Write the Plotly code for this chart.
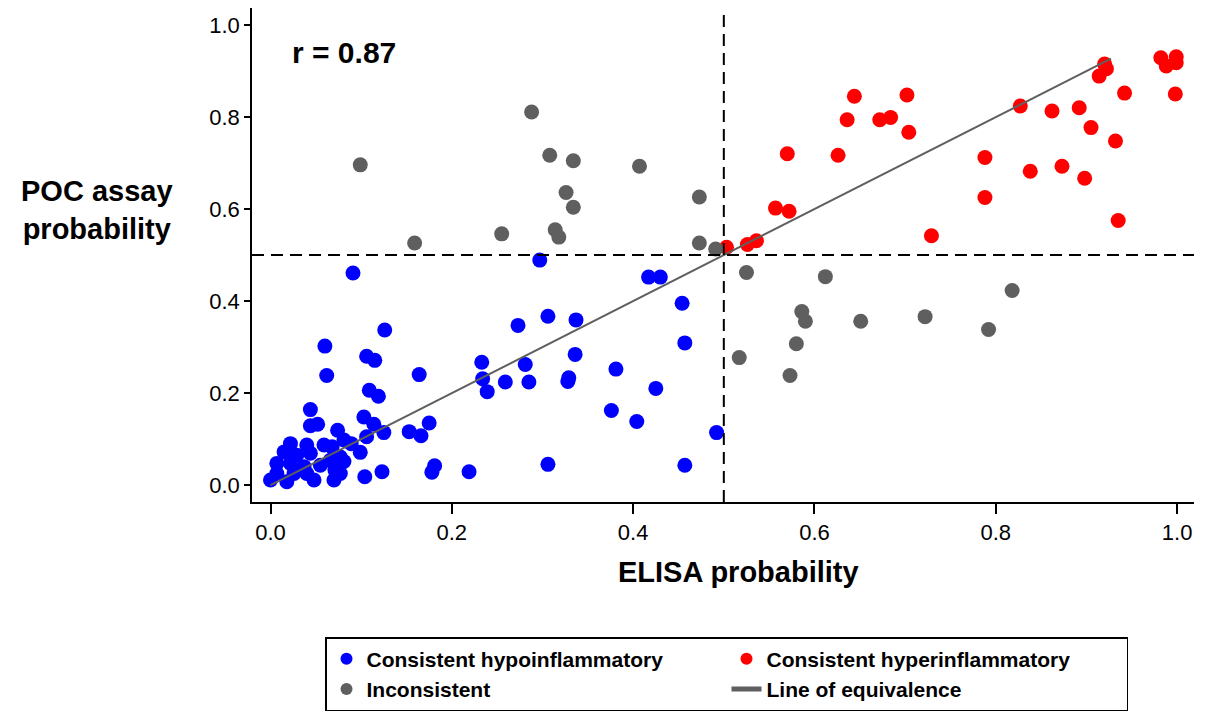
import plotly.graph_objects as go

# ---- data ----
hypo_x = [0.297, 0.417, 0.430, 0.454, 0.457, 0.306, 0.273, 0.337, 0.336, 0.281, 0.233, 0.234,
          0.239, 0.259, 0.285, 0.329, 0.328, 0.381, 0.425, 0.376, 0.404, 0.492, 0.457, 0.306,
          0.219, 0.181, 0.178, 0.164, 0.175, 0.153, 0.166,
          0.091, 0.126, 0.060, 0.106, 0.115, 0.062, 0.109, 0.119,
          0.044, 0.044, 0.052, 0.103, 0.114, 0.074, 0.125, 0.106, 0.081, 0.089, 0.022, 0.040,
          0.059, 0.068, 0.015, 0.029, 0.044, 0.077, 0.099, 0.081, 0.066, 0.007, 0.022, 0.037,
          0.055, 0.071, 0.077, 0.007, 0.000, 0.018, 0.048, 0.070, 0.040, 0.026, 0.104, 0.123]
hypo_y = [0.489, 0.452, 0.452, 0.395, 0.309, 0.367, 0.347, 0.359, 0.284, 0.262, 0.267, 0.231,
          0.203, 0.224, 0.224, 0.233, 0.225, 0.252, 0.210, 0.162, 0.138, 0.114, 0.043, 0.045,
          0.029, 0.042, 0.028, 0.240, 0.135, 0.116, 0.107,
          0.461, 0.337, 0.302, 0.280, 0.271, 0.238, 0.206, 0.193,
          0.164, 0.129, 0.132, 0.148, 0.132, 0.119, 0.114, 0.105, 0.098, 0.090, 0.090, 0.087,
          0.087, 0.083, 0.072, 0.065, 0.069, 0.061, 0.071, 0.051, 0.054, 0.047, 0.047, 0.040,
          0.043, 0.033, 0.025, 0.025, 0.011, 0.007, 0.011, 0.011, 0.025, 0.025, 0.018, 0.029]

hyper_x = [0.503, 0.526, 0.536, 0.557, 0.572, 0.570, 0.626, 0.644, 0.636, 0.672, 0.684, 0.702,
           0.704, 0.729, 0.788, 0.788, 0.827, 0.838, 0.862, 0.873, 0.892, 0.905, 0.898, 0.932,
           0.935, 0.914, 0.920, 0.922, 0.942, 0.982, 0.988, 0.999, 0.999, 0.998]
hyper_y = [0.517, 0.523, 0.531, 0.602, 0.595, 0.720, 0.717, 0.845, 0.794, 0.794, 0.799, 0.848,
           0.767, 0.542, 0.712, 0.625, 0.824, 0.682, 0.813, 0.693, 0.820, 0.777, 0.667, 0.748,
           0.575, 0.889, 0.915, 0.905, 0.852, 0.929, 0.911, 0.931, 0.918, 0.850]

incons_x = [0.099, 0.288, 0.308, 0.334, 0.407, 0.326, 0.334, 0.473, 0.255, 0.314, 0.318, 0.159,
            0.473, 0.491, 0.525, 0.612, 0.818, 0.586, 0.590, 0.651, 0.722, 0.792, 0.580, 0.517,
            0.573]
incons_y = [0.696, 0.811, 0.717, 0.705, 0.693, 0.636, 0.604, 0.626, 0.546, 0.555, 0.539, 0.526,
            0.526, 0.513, 0.462, 0.453, 0.423, 0.377, 0.356, 0.356, 0.366, 0.338, 0.307, 0.277,
            0.238]

equiv_x = [0.0, 0.927]
equiv_y = [0.0, 0.927]

tick_vals = [0.0, 0.2, 0.4, 0.6, 0.8, 1.0]
tick_text = ["0.0", "0.2", "0.4", "0.6", "0.8", "1.0"]
threshold = 0.5
r_text = "r = 0.87"
x_title = "ELISA probability"
y_title = "POC assay<br>probability"

FONT = "Liberation Sans, Arial, sans-serif"
BLUE = "#0000FF"
RED = "#FF0000"
GRAY = "#5F5F5F"

fig = go.Figure()
fig.add_trace(go.Scatter(x=hypo_x, y=hypo_y, mode="markers", name="Consistent hypoinflammatory",
                         marker=dict(color=BLUE, size=15)))
fig.add_trace(go.Scatter(x=hyper_x, y=hyper_y, mode="markers", name="Consistent hyperinflammatory",
                         marker=dict(color=RED, size=15)))
fig.add_trace(go.Scatter(x=incons_x, y=incons_y, mode="markers", name="Inconsistent",
                         marker=dict(color=GRAY, size=15)))
fig.add_trace(go.Scatter(x=equiv_x, y=equiv_y, mode="lines", name="Line of equivalence",
                         line=dict(color=GRAY, width=2)))

# threshold dashed lines
fig.add_shape(type="line", xref="x", yref="paper", x0=threshold, x1=threshold, y0=0, y1=1,
              line=dict(color="black", width=2, dash="12px,7px"))
fig.add_shape(type="line", xref="paper", yref="y", x0=0, x1=1, y0=threshold, y1=threshold,
              line=dict(color="black", width=2, dash="12px,7px"))

fig.add_annotation(x=0.0815, y=0.941, xref="x", yref="y", xanchor="center", yanchor="middle",
                   text="<b>" + r_text + "</b>", showarrow=False,
                   font=dict(family=FONT, size=30, color="black"))
fig.add_annotation(x=-0.1645, y=0.591, xref="paper", yref="paper", xanchor="center",
                   yanchor="middle", text="<b>" + y_title + "</b>", showarrow=False,
                   align="center", font=dict(family=FONT, size=29, color="black"))
fig.add_annotation(x=0.516, y=-0.1417, xref="paper", yref="paper", xanchor="center",
                   yanchor="middle", text="<b>" + x_title + "</b>", showarrow=False,
                   font=dict(family=FONT, size=29, color="black"))

fig.update_layout(
    width=1190, height=706,
    margin=dict(l=244, r=4, t=0, b=212),
    paper_bgcolor="white", plot_bgcolor="white",
    font=dict(family=FONT, color="black"),
    xaxis=dict(range=[-0.0204, 1.0186], tickvals=tick_vals, ticktext=tick_text, automargin=False,
               showgrid=False, zeroline=False, showline=True, linecolor="black", linewidth=1.5,
               ticks="outside", ticklen=10, tickwidth=1.5, tickcolor="black",
               tickfont=dict(family=FONT, size=22, color="black")),
    yaxis=dict(range=[-0.0369, 1.037], tickvals=tick_vals, ticktext=tick_text, automargin=False,
               showgrid=False, zeroline=False, showline=True, linecolor="black", linewidth=1.5,
               ticks="outside", ticklen=6, tickwidth=1.5, tickcolor="black",
               tickfont=dict(family=FONT, size=22, color="black")),
    legend=dict(orientation="h", x=0.0775, y=-0.2733, xanchor="left", yanchor="top",
                bordercolor="black", borderwidth=1.5, bgcolor="white",
                entrywidth=355, itemsizing="constant",
                font=dict(family=FONT, size=21, color="black", weight="bold")),
    showlegend=True,
)

fig.write_html("out.html")
